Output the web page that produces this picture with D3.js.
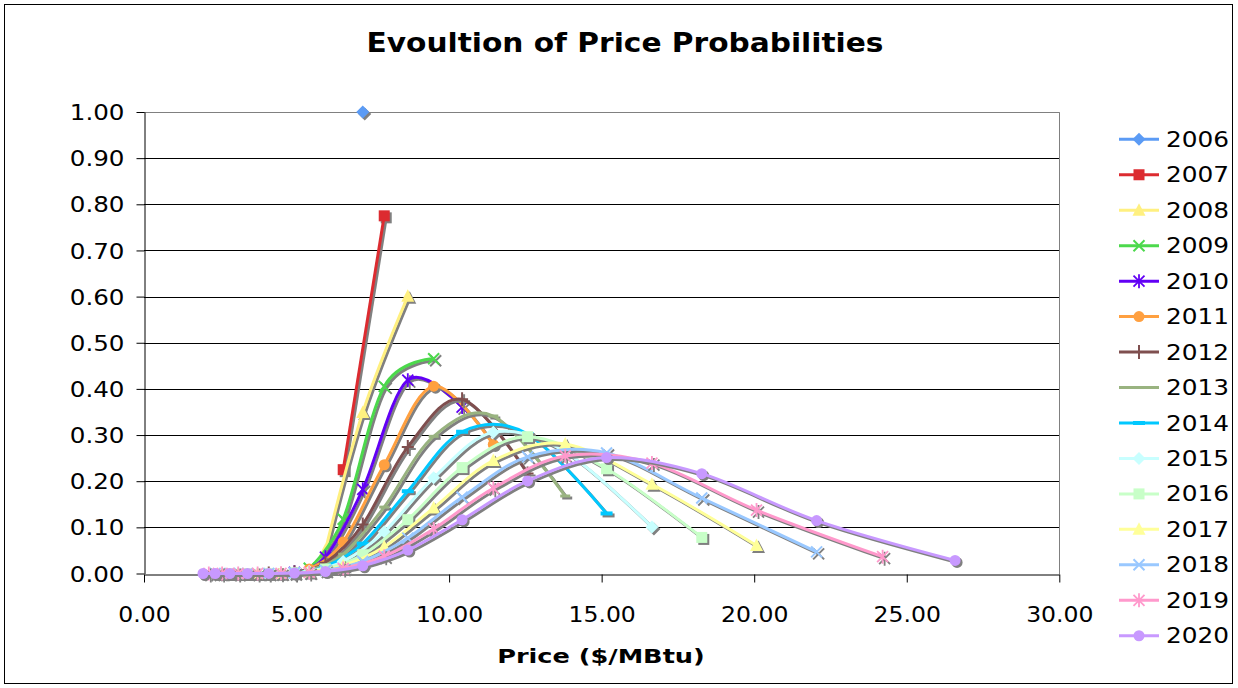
<!DOCTYPE html>
<html>
<head>
<meta charset="utf-8">
<script src="https://cdn.jsdelivr.net/npm/d3@7"></script>
<style>
  html, body { margin: 0; padding: 0; background: #fff; }
  svg { display: block; }
  text { font-family: "DejaVu Sans", Verdana, sans-serif; fill: #000; }
</style>
</head>
<body>
<svg id="chart" width="1238" height="688"></svg>
<script>
// Price ($/MBtu) nodes and their probabilities, one pair of arrays per year.
const years = ["2006","2007","2008","2009","2010","2011","2012","2013","2014","2015","2016","2017","2018","2019","2020"];

const prices2006 = [7.17];
const probs2006  = [1.0];
const prices2007 = [6.529, 7.874];
const probs2007  = [0.225, 0.775];
const prices2008 = [5.946, 7.17, 8.646];
const probs2008  = [0.05063, 0.34875, 0.60063];
const prices2009 = [5.415, 6.529, 7.874, 9.494];
const probs2009  = [0.01139, 0.11770, 0.40542, 0.46548];
const prices2010 = [4.931, 5.946, 7.17, 8.646, 10.426];
const probs2010  = [0.00256, 0.03531, 0.18244, 0.41894, 0.36075];
const prices2011 = [4.490, 5.415, 6.529, 7.874, 9.494, 11.449];
const probs2011  = [0.00058, 0.00993, 0.06842, 0.23565, 0.40584, 0.27958];
const prices2012 = [4.089, 4.931, 5.946, 7.17, 8.646, 10.426, 12.572];
const probs2012  = [0.00013, 0.00268, 0.02309, 0.10605, 0.27394, 0.37743, 0.21668];
const prices2013 = [3.724, 4.490, 5.415, 6.529, 7.874, 9.494, 11.449, 13.806];
const probs2013  = [0.00003, 0.00070, 0.00727, 0.04176, 0.14383, 0.29723, 0.34126, 0.16792];
const prices2014 = [3.391, 4.089, 4.931, 5.946, 7.17, 8.646, 10.426, 12.572, 15.161];
const probs2014  = [0.00001, 0.00018, 0.00218, 0.01503, 0.06472, 0.17834, 0.30714, 0.30226, 0.13014];
const prices2015 = [3.088, 3.724, 4.490, 5.415, 6.529, 7.874, 9.494, 11.449, 13.806, 16.648];
const probs2015  = [0.000001, 0.00005, 0.00063, 0.00507, 0.02621, 0.09028, 0.20732, 0.30604, 0.26353, 0.10086];
const prices2016 = [2.812, 3.391, 4.089, 4.931, 5.946, 7.17, 8.646, 10.426, 12.572, 15.161, 18.282];
const probs2016  = [0.0000003, 0.00001, 0.00018, 0.00163, 0.00983, 0.04063, 0.11662, 0.22954, 0.29648, 0.22693, 0.07817];
const prices2017 = [2.561, 3.088, 3.724, 4.490, 5.415, 6.529, 7.874, 9.494, 11.449, 13.806, 16.648, 20.076];
const probs2017  = [0.0000001, 0.000003, 0.00005, 0.00050, 0.00348, 0.01676, 0.05773, 0.14202, 0.24460, 0.28083, 0.19346, 0.06058];
const prices2018 = [2.332, 2.812, 3.391, 4.089, 4.931, 5.946, 7.17, 8.646, 10.426, 12.572, 15.161, 18.282, 22.046];
const probs2018  = [0.00000002, 0.0000007, 0.00001, 0.00015, 0.00117, 0.00646, 0.02598, 0.07669, 0.16510, 0.25275, 0.26117, 0.16356, 0.04695];
const prices2019 = [2.124, 2.561, 3.088, 3.724, 4.490, 5.415, 6.529, 7.874, 9.494, 11.449, 13.806, 16.648, 20.076, 24.209];
const probs2019  = [0.000000004, 0.0000002, 0.000004, 0.00004, 0.00038, 0.00236, 0.01085, 0.03739, 0.09658, 0.18482, 0.25465, 0.23921, 0.13733, 0.03639];
const prices2020 = [1.934, 2.332, 2.812, 3.391, 4.089, 4.931, 5.946, 7.17, 8.646, 10.426, 12.572, 15.161, 18.282, 22.046, 26.584];
const probs2020  = [0.000000001, 0.00000004, 0.0000009, 0.00001, 0.00012, 0.00083, 0.00427, 0.01682, 0.05071, 0.11644, 0.20053, 0.25118, 0.21629, 0.11461, 0.02820];

const xTickValues = [0, 5, 10, 15, 20, 25, 30];
const yTickValues = [0, 0.1, 0.2, 0.3, 0.4, 0.5, 0.6, 0.7, 0.8, 0.9, 1.0];

const titleText = "Evoultion of Price Probabilities";
const xAxisTitle = "Price ($/MBtu)";

const seriesPrices = [prices2006, prices2007, prices2008, prices2009, prices2010, prices2011, prices2012,
  prices2013, prices2014, prices2015, prices2016, prices2017, prices2018, prices2019, prices2020];
const seriesProbs = [probs2006, probs2007, probs2008, probs2009, probs2010, probs2011, probs2012,
  probs2013, probs2014, probs2015, probs2016, probs2017, probs2018, probs2019, probs2020];

// Styling per series
const colors = ["#5b9bf5", "#dc2b30", "#fff080", "#4cd94c", "#6200f5", "#ffa040", "#7f4f4f",
  "#99b380", "#00c8ff", "#c8ffff", "#c8ffc8", "#ffff99", "#99c8ff", "#ff99cc", "#c899ff"];
const markers = ["diamond", "square", "triangle", "x", "star", "circle", "plus",
  "dash", "longdash", "diamond", "square", "triangle", "x", "star", "circle"];

const svg = d3.select("#chart");
const W = 1238, H = 688;

const x = d3.scaleLinear().domain([0, 30]).range([144, 1059.3]);
const y = d3.scaleLinear().domain([0, 1]).range([573.5, 112]);

// stretch text horizontally (the chart's lettering is wide)
function stretch(sel, k) {
  sel.each(function () {
    const len = this.getComputedTextLength();
    this.setAttribute("textLength", len * k);
    this.setAttribute("lengthAdjust", "spacingAndGlyphs");
  });
}

// outer frame
svg.append("rect").attr("x", 4.5).attr("y", 4.5).attr("width", W - 10).attr("height", H - 9)
  .attr("fill", "#fff").attr("stroke", "#000").attr("stroke-width", 1);

// title
const title = svg.append("text").attr("x", 625).attr("y", 51.5).attr("text-anchor", "middle")
  .attr("font-size", 26).attr("font-weight", "bold").text(titleText);
stretch(title, 1.14);

// gridlines
const px0 = x.range()[0], px1 = x.range()[1];
svg.append("g").selectAll("line").data(yTickValues.filter(d => d > 0)).join("line")
  .attr("x1", px0).attr("x2", px1)
  .attr("y1", d => Math.round(y(d)) + 0.5).attr("y2", d => Math.round(y(d)) + 0.5)
  .attr("stroke", "#000").attr("stroke-width", 1);

// plot area border (right / top)
svg.append("path")
  .attr("d", `M${px0},${Math.round(y(1)) + 0.5}H${Math.round(px1) + 0.5}V${Math.round(y(0))}`)
  .attr("fill", "none").attr("stroke", "#808080").attr("stroke-width", 1);

// axes
const yAxis = svg.append("g").attr("transform", `translate(${Math.round(px0) + 0.5},0)`)
  .call(d3.axisLeft(y).tickValues(yTickValues).tickFormat(d3.format(".2f")).tickSizeInner(8).tickSizeOuter(0).tickPadding(12));
const xAxis = svg.append("g").attr("transform", `translate(0,${Math.round(y(0)) + 0.5})`)
  .call(d3.axisBottom(x).tickValues(xTickValues).tickFormat(d3.format(".2f")).tickSizeInner(8).tickSizeOuter(0));
[yAxis, xAxis].forEach(a => {
  a.select(".domain").attr("stroke", "#000").attr("stroke-width", 1);
  a.selectAll(".tick line").attr("stroke", "#000");
  a.selectAll(".tick text").attr("font-size", 21).attr("font-family", "DejaVu Sans, Verdana, sans-serif").attr("fill", "#000");
});
yAxis.selectAll(".tick text").attr("dy", "0.36em");
xAxis.selectAll(".tick text").attr("y", 47).attr("dy", 0);
stretch(yAxis.selectAll(".tick text"), 1.17);
stretch(xAxis.selectAll(".tick text"), 1.12);

// x axis title
const xt = svg.append("text").attr("x", 601).attr("y", 663).attr("text-anchor", "middle")
  .attr("font-size", 20).attr("font-weight", "bold").text(xAxisTitle);
stretch(xt, 1.28);

// marker drawing
function marker(g, type, color, cx, cy) {
  const m = g.append("g").attr("transform", `translate(${cx},${cy})`);
  switch (type) {
    case "diamond":
      m.append("path").attr("d", "M0,-6.5L6.5,0L0,6.5L-6.5,0Z").attr("fill", color); break;
    case "square":
      m.append("rect").attr("x", -5.5).attr("y", -5.5).attr("width", 11).attr("height", 11).attr("fill", color); break;
    case "triangle":
      m.append("path").attr("d", "M0,-7L6.5,5.5L-6.5,5.5Z").attr("fill", color); break;
    case "circle":
      m.append("circle").attr("r", 5.5).attr("fill", color); break;
    case "x":
      m.append("path").attr("d", "M-5.5,-5.5L5.5,5.5M-5.5,5.5L5.5,-5.5").attr("stroke", color).attr("stroke-width", 2).attr("fill", "none"); break;
    case "star":
      m.append("path").attr("d", "M-5.5,-5.5L5.5,5.5M-5.5,5.5L5.5,-5.5M0,-7L0,7").attr("stroke", color).attr("stroke-width", 1.8).attr("fill", "none"); break;
    case "plus":
      m.append("path").attr("d", "M0,-7L0,7M-6,0L6,0").attr("stroke", color).attr("stroke-width", 2).attr("fill", "none"); break;
    case "dash":
      m.append("rect").attr("x", -5).attr("y", -1.5).attr("width", 10).attr("height", 3).attr("fill", color); break;
    case "longdash":
      m.append("rect").attr("x", -6).attr("y", -2).attr("width", 12).attr("height", 4).attr("fill", color); break;
  }
  return m;
}

const line = d3.line().x(d => x(d[0])).y(d => y(d[1])).curve(d3.curveCatmullRom.alpha(0));
const shadowColor = "#808080";
const sdx = 2, sdy = 2;

const plot = svg.append("g");
years.forEach((yr, i) => {
  const pts = seriesPrices[i].map((p, j) => [p, seriesProbs[i][j]]);
  const g = plot.append("g").attr("class", "series-" + yr);
  const sh = g.append("g").attr("transform", `translate(${sdx},${sdy})`);
  if (pts.length > 1) {
    sh.append("path").attr("d", line(pts)).attr("fill", "none").attr("stroke", shadowColor)
      .attr("stroke-width", 3).attr("stroke-linejoin", "round");
  }
  pts.forEach(d => marker(sh, markers[i], shadowColor, x(d[0]), y(d[1])));
  if (pts.length > 1) {
    g.append("path").attr("d", line(pts)).attr("fill", "none").attr("stroke", colors[i])
      .attr("stroke-width", 3).attr("stroke-linejoin", "round");
  }
  pts.forEach(d => marker(g, markers[i], colors[i], x(d[0]), y(d[1])));
});

// legend
const legend = svg.append("g");
years.forEach((yr, i) => {
  const ly = 139.3 + i * 35.46;
  legend.append("line").attr("x1", 1119).attr("x2", 1159).attr("y1", ly).attr("y2", ly)
    .attr("stroke", colors[i]).attr("stroke-width", 3);
  marker(legend, markers[i], colors[i], 1139, ly);
  const t = legend.append("text").attr("x", 1166).attr("y", ly).attr("dy", "0.36em")
    .attr("font-size", 21).text(yr);
  stretch(t, 1.18);
});
</script>
</body>
</html>
